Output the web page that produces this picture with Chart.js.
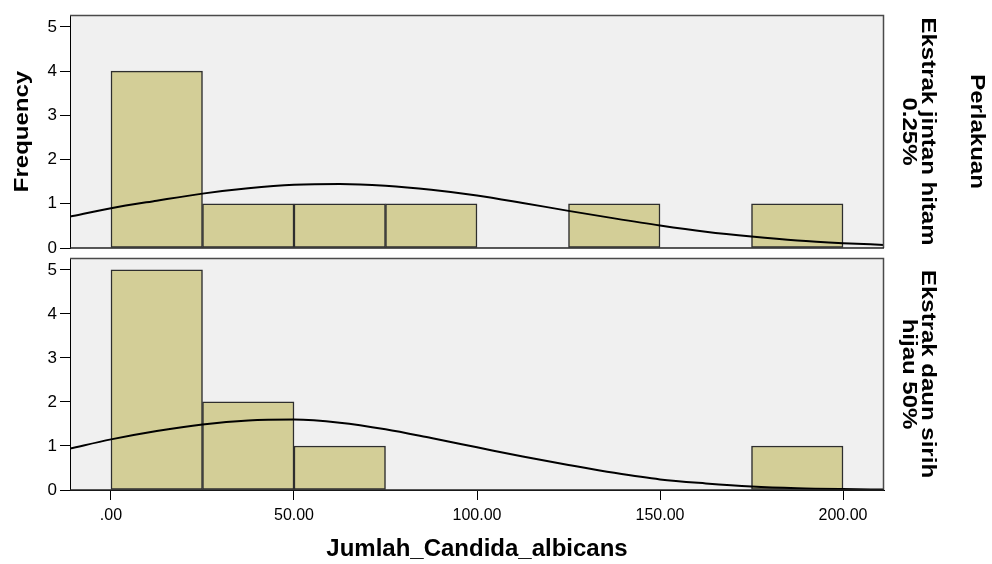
<!DOCTYPE html>
<html>
<head>
<meta charset="utf-8">
<script src="https://cdn.jsdelivr.net/npm/chart.js@4.4.1/dist/chart.umd.min.js"></script>
<style>
  html, body { margin: 0; padding: 0; background: #ffffff; }
  #wrap { position: relative; width: 992px; height: 564px; overflow: hidden; }
  #wrap canvas { position: absolute; left: 0; }
</style>
</head>
<body>
<div id="wrap">
  <canvas id="top" width="992" height="263" style="top:0"></canvas>
  <canvas id="bottom" width="992" height="321" style="top:243px"></canvas>
</div>
<script>
// ---- data ----
const binCenters = [12.5, 37.5, 62.5, 87.5, 112.5, 137.5, 162.5, 187.5];
const countsJintan = [4, 1, 1, 1, 0, 1, 0, 1];
const countsSirih  = [5, 2, 1, 0, 0, 0, 0, 1];

const curveX = [-11.2, 0, 12.5, 25, 37.5, 50, 62.5, 75, 87.5, 100, 112.5, 125, 137.5, 150, 162.5, 175, 187.5, 200, 211.2];
const curveJintan = [0.71, 0.90, 1.07, 1.23, 1.35, 1.43, 1.45, 1.41, 1.32, 1.19, 1.02, 0.84, 0.67, 0.51, 0.37, 0.26, 0.17, 0.11, 0.07];
const curveSirih  = [0.94, 1.15, 1.34, 1.49, 1.58, 1.60, 1.53, 1.38, 1.18, 0.97, 0.76, 0.57, 0.39, 0.24, 0.15, 0.08, 0.04, 0.02, 0.01];

const xTickValues = [0, 50, 100, 150, 200];
const xTickLabels = ['.00', '50.00', '100.00', '150.00', '200.00'];
const yTickValues = [0, 1, 2, 3, 4, 5];
const xRange = [-11.2, 211.2];
const yMax = 5.27;

const panelLabels = [['Ekstrak jintan hitam', '0.25%'], ['Ekstrak daun sirih', 'hijau 50%']];
const panelVarLabel = 'Perlakuan';
const yTitle = 'Frequency';
const xTitle = 'Jumlah_Candida_albicans';

// ---- styling ----
const BAR_FILL = '#d3ce97';
const BAR_EDGE = '#2e2e2e';
const PANEL_BG = '#f0f0f0';
const FRAME = '#4a4a4a';
const TITLE_FONT = 'bold 24px "Liberation Sans", Arial, sans-serif';
const ROT_SY = 0.85;

function drawRot(ctx, lines, cx, cy, angle, font, gap, sy) {
  ctx.save();
  ctx.translate(cx, cy);
  ctx.rotate(angle);
  ctx.scale(1, sy);
  ctx.font = font;
  ctx.fillStyle = '#000';
  ctx.textAlign = 'center';
  ctx.textBaseline = 'middle';
  const n = lines.length;
  lines.forEach((t, i) => {
    ctx.fillText(t, 0, (i - (n - 1) / 2) * gap / sy);
  });
  ctx.restore();
}

function makePanelPlugin(panelIndex) {
  return {
    id: 'panel' + panelIndex,
    beforeDraw(chart) {
      const {ctx, chartArea: a} = chart;
      ctx.save();
      ctx.fillStyle = PANEL_BG;
      ctx.fillRect(a.left, a.top, a.right - a.left, a.bottom - a.top);
      ctx.restore();
    },
    afterDatasetsDraw(chart) {
      const {ctx, chartArea: a} = chart;
      ctx.save();
      ctx.strokeStyle = FRAME;
      ctx.lineWidth = 1.5;
      ctx.beginPath();
      ctx.moveTo(a.left, a.top + 0.5);
      ctx.lineTo(a.right - 0.5, a.top + 0.5);
      ctx.lineTo(a.right - 0.5, a.bottom);
      ctx.stroke();
      ctx.strokeStyle = '#222';
      ctx.beginPath();
      ctx.moveTo(a.left, a.bottom);
      ctx.lineTo(a.right, a.bottom);
      ctx.stroke();
      ctx.restore();
    },
    afterDraw(chart) {
      const {ctx, chartArea: a} = chart;
      const cy = (a.top + a.bottom) / 2;
      drawRot(ctx, panelLabels[panelIndex], a.right + 34, cy, Math.PI / 2, TITLE_FONT, 18.5, ROT_SY);
      if (panelIndex === 0) {
        drawRot(ctx, [panelVarLabel], a.right + 93, cy, Math.PI / 2, TITLE_FONT, 0, ROT_SY);
        drawRot(ctx, [yTitle], 22, cy, -Math.PI / 2, TITLE_FONT, 0, ROT_SY);
      }
    }
  };
}

function pts(xs, ys) {
  return xs.map((x, i) => ({x: x, y: ys[i]}));
}
function barPts(counts) {
  return binCenters.map((x, i) => ({x: x, y: counts[i] > 0 ? counts[i] : null}));
}

function makeChart(canvasId, counts, curve, panelIndex, showX) {
  const xScale = {
    type: 'linear',
    min: xRange[0],
    max: xRange[1],
    offset: false,
    display: showX,
    afterBuildTicks: s => { s.ticks = xTickValues.map(v => ({value: v})); },
    afterFit: s => { if (showX) s.height = 74; },
    ticks: {
      color: '#000',
      font: {family: '"Liberation Sans", Arial, sans-serif', size: 16},
      padding: 6,
      maxRotation: 0,
      autoSkip: false,
      callback: (v, i) => xTickLabels[i]
    },
    grid: {display: true, offset: false, drawOnChartArea: false, drawTicks: true, tickLength: 10, color: '#000', lineWidth: 1},
    border: {display: true, color: '#000', width: 1},
    title: {
      display: showX,
      text: xTitle,
      color: '#000',
      font: {family: '"Liberation Sans", Arial, sans-serif', size: 24, weight: 'bold'},
      padding: {top: 0, bottom: 0}
    }
  };
  const yScale = {
    type: 'linear',
    min: 0,
    max: yMax,
    afterBuildTicks: s => { s.ticks = yTickValues.map(v => ({value: v})); },
    afterFit: s => { s.width = 70; },
    ticks: {
      color: '#000',
      font: {family: '"Liberation Sans", Arial, sans-serif', size: 17},
      padding: 3,
      callback: v => String(v)
    },
    grid: {display: true, drawOnChartArea: false, drawTicks: true, tickLength: 10, color: '#000', lineWidth: 1},
    border: {display: true, color: '#000', width: 1}
  };
  return new Chart(document.getElementById(canvasId), {
    type: 'bar',
    data: {
      datasets: [
        {
          type: 'line',
          data: pts(curveX, curve),
          borderColor: '#000',
          borderWidth: 2,
          pointRadius: 0,
          cubicInterpolationMode: 'monotone',
          fill: false,
          order: 0
        },
        {
          type: 'bar',
          data: barPts(counts),
          backgroundColor: BAR_FILL,
          borderColor: BAR_EDGE,
          borderWidth: 1.5,
          borderSkipped: false,
          barPercentage: 1,
          categoryPercentage: 1,
          grouped: false,
          order: 1
        }
      ]
    },
    options: {
      responsive: false,
      devicePixelRatio: 1,
      animation: false,
      layout: {padding: showX ? {left: 0, right: 108, top: 15, bottom: 0} : {left: 0, right: 108, top: 15, bottom: 15}},
      scales: {x: xScale, y: yScale},
      plugins: {legend: {display: false}, tooltip: {enabled: false}}
    },
    plugins: [makePanelPlugin(panelIndex)]
  });
}

makeChart('top', countsJintan, curveJintan, 0, false);
makeChart('bottom', countsSirih, curveSirih, 1, true);
</script>
</body>
</html>
